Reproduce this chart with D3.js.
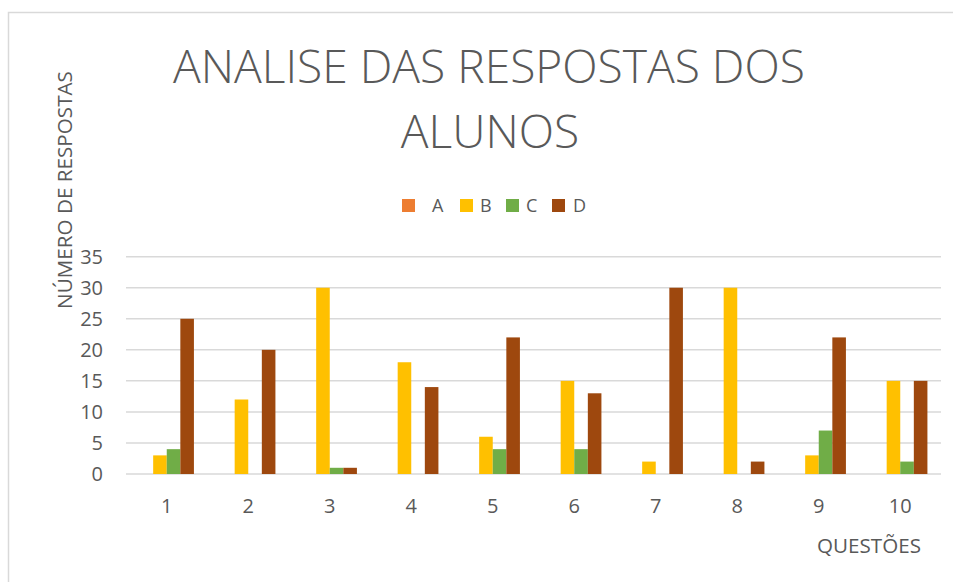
<!DOCTYPE html>
<html>
<head>
<meta charset="utf-8">
<script src="https://cdn.jsdelivr.net/npm/d3@7"></script>
<style>
  body { margin: 0; background: #fff; }
  text { font-family: "Open Sans", "Noto Sans", sans-serif; fill: #595959; }
</style>
</head>
<body>
<svg id="chart" width="953" height="582"></svg>
<script>
var questoes = ["1", "2", "3", "4", "5", "6", "7", "8", "9", "10"];
var series = ["A", "B", "C", "D"];
var valoresA = [0, 0, 0, 0, 0, 0, 0, 0, 0, 0];
var valoresB = [3, 12, 30, 18, 6, 15, 2, 30, 3, 15];
var valoresC = [4, 0, 1, 0, 4, 4, 0, 0, 7, 2];
var valoresD = [25, 20, 1, 14, 22, 13, 30, 2, 22, 15];
var yTicks = [0, 5, 10, 15, 20, 25, 30, 35];
var colors = ["#ED7D31", "#FFC000", "#70AD47", "#9E480E"];

var svg = d3.select("#chart");

// chart area border
svg.append("rect")
    .attr("x", 8.5).attr("y", 12.5)
    .attr("width", 980).attr("height", 620)
    .attr("fill", "none")
    .attr("stroke", "#d9d9d9")
    .attr("stroke-width", 1.5);

var margin = {left: 126, right: 941, top: 256.7, bottom: 474};

var x0 = d3.scaleBand().domain(questoes).range([margin.left, margin.right]).padding(0);
var bw = x0.bandwidth();
var x1 = d3.scaleBand().domain(series).range([bw / 6, bw * 5 / 6]).padding(0);
var y = d3.scaleLinear().domain([0, 35]).range([margin.bottom, margin.top]);

// gridlines
svg.append("g").selectAll("line")
    .data(yTicks)
  .enter().append("line")
    .attr("x1", margin.left).attr("x2", margin.right)
    .attr("y1", function(d) { return y(d); })
    .attr("y2", function(d) { return y(d); })
    .attr("stroke", "#d9d9d9")
    .attr("stroke-width", 1.5);

// y axis labels
var yAxis = svg.append("g")
    .attr("transform", "translate(" + (margin.left - 23) + ",0)")
    .call(d3.axisLeft(y).tickValues(yTicks).tickSize(0).tickPadding(0));
yAxis.select(".domain").remove();
yAxis.selectAll("text")
    .attr("fill", "#595959")
    .style("font-size", "20px")
    .style("font-family", "'Open Sans', sans-serif");

// x axis labels
var xAxis = svg.append("g")
    .attr("transform", "translate(0," + margin.bottom + ")")
    .call(d3.axisBottom(x0).tickSize(0).tickPadding(25));
xAxis.select(".domain").remove();
xAxis.selectAll("text")
    .attr("fill", "#595959")
    .style("font-size", "20px")
    .style("font-family", "'Open Sans', sans-serif");

// bars
var table = questoes.map(function(q, i) {
  return {q: q, vals: [valoresA[i], valoresB[i], valoresC[i], valoresD[i]]};
});

var groups = svg.append("g").selectAll("g")
    .data(table)
  .enter().append("g")
    .attr("transform", function(d) { return "translate(" + x0(d.q) + ",0)"; });

groups.selectAll("rect")
    .data(function(d) { return d.vals.map(function(v, k) { return {key: series[k], v: v, c: colors[k]}; }); })
  .enter().append("rect")
    .attr("x", function(d) { return x1(d.key); })
    .attr("width", x1.bandwidth())
    .attr("y", function(d) { return y(d.v); })
    .attr("height", function(d) { return y(0) - y(d.v); })
    .attr("fill", function(d) { return d.c; });

// scale a text so it spans the given width
function fitText(sel, width) {
  var w = sel.node().getComputedTextLength();
  var fs = parseFloat(sel.style("font-size"));
  sel.style("font-size", (fs * width / w) + "px");
}

// title
var t1 = svg.append("text")
    .attr("x", 489).attr("y", 83)
    .attr("text-anchor", "middle")
    .style("font-size", "44px").style("font-weight", 300)
    .text("ANALISE DAS RESPOSTAS DOS");
fitText(t1, 632);
svg.append("text")
    .attr("x", 490).attr("y", 148)
    .attr("text-anchor", "middle")
    .style("font-size", t1.style("font-size")).style("font-weight", 300)
    .text("ALUNOS");

// legend
var legX = [402, 460, 506, 552];
var legTX = [432, 480, 526, 573];
for (var i = 0; i < series.length; i++) {
  svg.append("rect")
      .attr("x", legX[i]).attr("y", 199)
      .attr("width", 13).attr("height", 13)
      .attr("fill", colors[i]);
  svg.append("text")
      .attr("x", legTX[i]).attr("y", 212)
      .style("font-size", "18px")
      .text(series[i]);
}

// axis titles
var yt = svg.append("text")
    .attr("transform", "translate(72,190) rotate(-90)")
    .attr("text-anchor", "middle")
    .style("font-size", "18px")
    .text("NÚMERO DE RESPOSTAS");
fitText(yt, 238);

var xt = svg.append("text")
    .attr("x", 869).attr("y", 553)
    .attr("text-anchor", "middle")
    .style("font-size", "18px")
    .text("QUESTÕES");
fitText(xt, 104);
</script>
</body>
</html>
